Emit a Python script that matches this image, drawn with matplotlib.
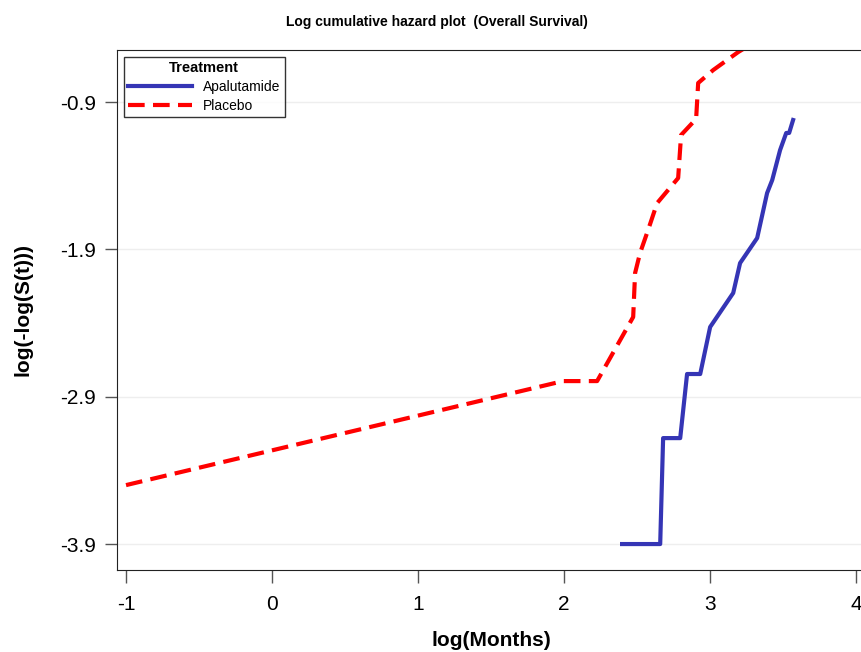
import matplotlib.pyplot as plt

plt.rcParams['font.family'] = ['Liberation Sans', 'DejaVu Sans']
plt.rcParams['axes.unicode_minus'] = False

# log(months) vs log(-log(S(t)))
placebo_x = [-1.0, 1.993, 2.226, 2.473, 2.486, 2.52, 2.575, 2.637, 2.781, 2.801,
             2.904, 2.918, 3.021, 3.192, 3.26]
placebo_y = [-3.50, -2.794, -2.794, -2.359, -2.061, -1.925, -1.769, -1.586, -1.416, -1.124,
             -1.015, -0.771, -0.683, -0.561, -0.52]

apalu_x = [2.397, 2.658, 2.678, 2.795, 2.842, 2.932, 3.0, 3.158, 3.205, 3.322,
           3.39, 3.425, 3.479, 3.521, 3.541, 3.568]
apalu_y = [-3.9, -3.9, -3.181, -3.181, -2.746, -2.746, -2.427, -2.196, -1.993, -1.823,
           -1.518, -1.43, -1.226, -1.11, -1.11, -1.022]

xticks = [-1, 0, 1, 2, 3, 4]
yticks = [-3.9, -2.9, -1.9, -0.9]

fig = plt.figure(figsize=(8.62, 6.52), dpi=100)
ax = fig.add_axes([0.1357, 0.1258, 0.8677, 0.7975])

ax.plot(apalu_x, apalu_y, color='#3535B5', lw=3, label='Apalutamide')
ax.plot(placebo_x, placebo_y, color='#FF0000', lw=3, ls=(0, (4, 2)), label='Placebo')

ax.set_xlim(-1.062, 4.06)
ax.set_ylim(-4.076, -0.547)
ax.set_xticks(xticks)
ax.set_yticks(yticks)
ax.set_yticklabels(['%.1f' % v for v in yticks])
ax.tick_params(labelsize=15, length=9, width=1, color='#555555', direction='out')
ax.tick_params(axis='x', pad=9)
ax.tick_params(axis='y', pad=6)
ax.grid(axis='y', color='#EEEEEE', lw=1)
ax.set_axisbelow(True)
for s in ax.spines.values():
    s.set_color('#222222')

ax.set_xlabel('log(Months)', fontsize=15, fontweight='bold', labelpad=12)
ax.set_ylabel('log(-log(S(t)))', fontsize=15, fontweight='bold', labelpad=20)
fig.text(0.507, 0.966, 'Log cumulative hazard plot  (Overall Survival)',
         ha='center', va='center', fontsize=10, fontweight='bold')

leg = ax.legend(loc='upper left', title='Treatment', fontsize=10, frameon=True,
                fancybox=False, borderaxespad=0.5, handlelength=4.6,
                borderpad=0.3, labelspacing=0.35, handletextpad=0.8)
leg.get_title().set_fontweight('bold')
leg.get_title().set_fontsize(10.5)
leg.get_frame().set_edgecolor('black')
leg.get_frame().set_linewidth(1)

fig.savefig('out.png', dpi=100)
